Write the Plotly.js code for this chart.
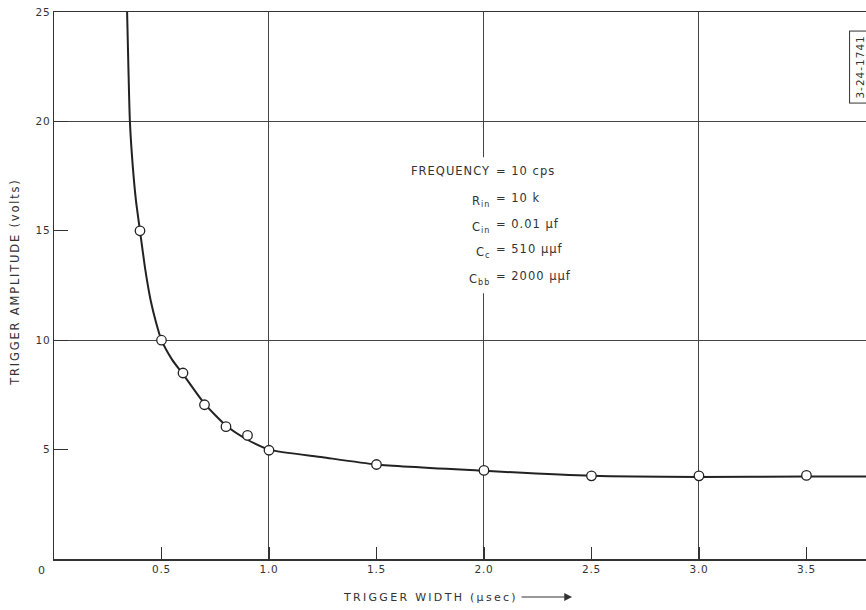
<!DOCTYPE html>
<html><head><meta charset="utf-8">
<script src="https://cdn.plot.ly/plotly-3.0.1.min.js"></script>
<style>html,body{margin:0;padding:0;background:#fff;}#chart{width:866px;height:610px;}
.xtick text,.ytick text{letter-spacing:0.8px;}</style>
</head><body><div id="chart"></div>
<script>
// measured points (open circles)
const widthPts = [0.4, 0.5, 0.6, 0.7, 0.8, 0.9, 1.0, 1.5, 2.0, 2.5, 3.0, 3.5];
const ampPts   = [15, 10, 8.5, 7.05, 6.05, 5.65, 4.97, 4.32, 4.05, 3.8, 3.8, 3.82];
// drawn smooth curve
const curveX = [0.34, 0.346, 0.353, 0.366, 0.381, 0.4, 0.425, 0.45, 0.475, 0.5, 0.55, 0.6, 0.7, 0.8, 0.9, 1.0, 1.25, 1.5, 2.0, 2.5, 3.0, 3.5, 3.78];
const curveY = [25, 22.5, 20, 18, 16.4, 15, 13.2, 11.8, 10.8, 10, 9.1, 8.45, 7.1, 6.1, 5.45, 5.0, 4.65, 4.32, 4.03, 3.8, 3.75, 3.77, 3.77];
// tick labels
const xTickVals = [0.5, 1.0, 1.5, 2.0, 2.5, 3.0, 3.5];
const xTickText = ['0.5', '1.0', '1.5', '2.0', '2.5', '3.0', '3.5'];
const yTickVals = [5, 10, 15, 20, 25];
const yTickText = ['5', '10', '15', '20', '25'];
// parameter block
const paramLabels = ['FREQUENCY', 'R<sub>in</sub>', 'C<sub>in</sub>', 'C<sub>c</sub>', 'C<sub>bb</sub>'];
const paramValues = ['= 10 cps', '= 10 k', '= 0.01 \u03bcf', '= 510 \u03bc\u03bcf', '= 2000 \u03bc\u03bcf'];
const paramY = [17.73, 16.5, 15.31, 14.17, 12.93];

const ink = '#333';
const fontFam = 'DejaVu Sans, sans-serif';
const sp = (t, px) => '<span style="letter-spacing:' + px + 'px">' + t + '</span>';

const traces = [
  {x: curveX, y: curveY, mode: 'lines', line: {color: '#222', width: 2, shape: 'spline', smoothing: 0.6}, hoverinfo: 'skip', showlegend: false},
  {x: widthPts, y: ampPts, mode: 'markers', marker: {symbol: 'circle', size: 9.5, color: '#fff', line: {color: '#222', width: 1.3}}, showlegend: false}
];

const annotations = [];
paramLabels.forEach((lab, i) => {
  const sub = lab.indexOf('<sub>') >= 0;
  annotations.push({xref: 'x', yref: 'y', x: 2.035, y: paramY[i] - (sub ? 0.14 : 0), xanchor: 'right', yanchor: 'middle', text: sp(lab, 1), showarrow: false, font: {family: fontFam, size: 11.5, color: ink}});
  annotations.push({xref: 'x', yref: 'y', x: 2.045, y: paramY[i], xanchor: 'left', yanchor: 'middle', text: sp(paramValues[i], 1), showarrow: false, font: {family: fontFam, size: 11.5, color: ink}});
});
annotations.push({xref: 'paper', yref: 'paper', x: 0.4631, y: -0.0695, xanchor: 'center', yanchor: 'middle', text: sp('TRIGGER WIDTH (\u03bcsec)', 2.3), showarrow: false, font: {family: fontFam, size: 11, color: ink}});
annotations.push({xref: 'paper', yref: 'paper', x: 0.638, y: -0.0695, ax: -52, ay: 0, text: '', showarrow: true, arrowhead: 2, arrowsize: 1.3, arrowwidth: 1.2, arrowcolor: ink});
annotations.push({xref: 'paper', yref: 'paper', x: -0.048, y: 0.505, xanchor: 'center', yanchor: 'middle', textangle: -90, text: sp('TRIGGER AMPLITUDE (volts)', 1.8), showarrow: false, font: {family: fontFam, size: 11.5, color: ink}});
annotations.push({xref: 'paper', yref: 'paper', x: -0.0148, y: -0.0219, xanchor: 'center', yanchor: 'middle', text: '0', showarrow: false, font: {family: fontFam, size: 11, color: ink}});
annotations.push({xref: 'paper', yref: 'paper', x: 0.993, y: 0.899, xanchor: 'center', yanchor: 'middle', textangle: -90, text: sp('3-24-1741', 1), showarrow: false, bordercolor: ink, borderwidth: 1, borderpad: 4, bgcolor: '#fff', font: {family: fontFam, size: 10.5, color: ink}});

const layout = {
  width: 866, height: 610,
  margin: {l: 54, r: 0, t: 12, b: 51},
  paper_bgcolor: '#fff', plot_bgcolor: '#fff',
  showlegend: false,
  font: {family: fontFam, size: 11, color: ink},
  xaxis: {
    range: [0, 3.777], tickmode: 'array', tickvals: xTickVals, ticktext: xTickText,
    ticks: 'inside', ticklen: 12, tickwidth: 1.2, tickcolor: ink,
    showgrid: false, zeroline: false, showline: true, linecolor: ink, linewidth: 1.5, mirror: true,
    minor: {tickmode: 'array', tickvals: [1, 2, 3], showgrid: true, gridcolor: '#444', gridwidth: 1, ticks: ''},
    tickfont: {family: fontFam, size: 10.5, color: ink}, fixedrange: true
  },
  yaxis: {
    range: [0, 25], tickmode: 'array', tickvals: yTickVals, ticktext: yTickText,
    ticks: 'inside', ticklen: 14, tickwidth: 1.2, tickcolor: ink,
    showgrid: false, zeroline: false, showline: true, linecolor: ink, linewidth: 1.5,
    minor: {tickmode: 'array', tickvals: [10, 20], showgrid: true, gridcolor: '#444', gridwidth: 1, ticks: ''},
    tickfont: {family: fontFam, size: 10.5, color: ink}, fixedrange: true
  },
  shapes: [
    {type: 'rect', xref: 'x', yref: 'y', x0: 1.96, x1: 2.04, y0: 12.15, y1: 18.36, fillcolor: '#fff', line: {width: 0}, layer: 'above'}
  ],
  annotations: annotations
};

Plotly.newPlot('chart', traces, layout, {displayModeBar: false, staticPlot: true});
</script></body></html>
